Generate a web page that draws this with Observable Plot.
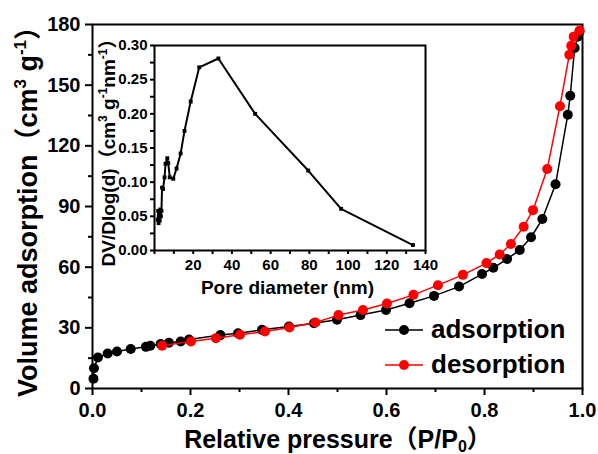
<!DOCTYPE html>
<html><head><meta charset="utf-8">
<script src="https://cdn.jsdelivr.net/npm/d3@7"></script>
<script src="https://cdn.jsdelivr.net/npm/@observablehq/plot@0.6"></script>
<style>
body{margin:0;background:#fff}
#chart{position:relative;width:598px;height:454px;overflow:hidden}
#chart svg{display:block}
</style></head><body><div id="chart"></div>
<script>
// ---- data ----
const adsX = [0.002,0.003,0.011,0.031,0.050,0.078,0.109,0.118,0.139,0.156,0.180,0.197,0.261,0.297,0.346,0.401,0.452,0.499,0.547,0.599,0.647,0.697,0.748,0.795,0.818,0.846,0.872,0.895,0.918,0.945,0.970,0.975,0.984,0.990,0.994];
const adsY = [4.8,10.0,15.3,17.3,18.3,19.5,20.6,21.1,22.0,22.6,23.2,24.2,26.4,27.3,29.0,30.7,32.3,34.0,36.3,38.8,42.2,45.8,50.4,56.6,59.7,64.0,68.5,74.8,83.8,101.0,135.4,144.8,168.4,174.0,176.5];
const desX = [0.142,0.201,0.252,0.301,0.352,0.402,0.455,0.502,0.552,0.601,0.655,0.705,0.756,0.804,0.831,0.854,0.880,0.899,0.928,0.954,0.973,0.977,0.982,0.994];
const desY = [21.1,23.3,24.9,26.6,28.2,30.2,32.6,36.3,38.8,42.0,46.3,51.1,56.2,62.0,66.3,71.5,80.0,88.2,108.5,139.6,165.0,169.5,174.0,177.0];
const poreD = [1.6,1.9,2.1,2.4,2.7,3.0,3.3,3.6,3.9,4.4,5.2,5.7,6.6,7.1,7.9,9.7,11.4,13.5,15.5,18.7,23.1,33.0,52.0,79.4,96.4,133.5];
const poreV = [0.045,0.058,0.040,0.052,0.044,0.060,0.050,0.058,0.092,0.090,0.107,0.127,0.135,0.128,0.107,0.105,0.120,0.142,0.175,0.218,0.268,0.281,0.200,0.117,0.061,0.008];
const xTicks = [0,0.2,0.4,0.6,0.8,1.0];
const xMinor = [0.1,0.3,0.5,0.7,0.9];
const yTicks = [0,30,60,90,120,150,180];
const yMinor = [15,45,75,105,135,165];
const insetXTicks = [20,40,60,80,100,120,140];
const insetXMinor = [0,10,30,50,70,90,110,130];
const insetYTicks = [0,0.05,0.10,0.15,0.20,0.25,0.30];
const insetYMinor = [0.025,0.075,0.125,0.175,0.225,0.275];
const seriesNames = ["adsorption","desorption"];
const seriesColors = ["#000000","#ff0000"];

const FONT = "'Liberation Sans', Arial, 'Noto Sans CJK SC', sans-serif";
const ads = adsX.map((x,i)=>({x, y: adsY[i]}));
const des = desX.map((x,i)=>({x, y: desY[i]}));
const pore = poreD.map((x,i)=>({x, y: poreV[i]}));

const main = Plot.plot({
  width: 598, height: 454,
  marginLeft: 92, marginRight: 16, marginTop: 24, marginBottom: 66,
  style: {fontFamily: FONT, background: "white", overflow: "visible", position: "absolute", left: "0px", top: "0px"},
  x: {domain: [0, 1]},
  y: {domain: [0, 180]},
  marks: [
    Plot.axisX(xTicks, {tickSize: 7, tickPadding: 7, tickFormat: d3.format(".1f"), fontSize: 20, fontWeight: "bold", strokeWidth: 2, label: null}),
    Plot.axisX(xMinor, {tickSize: 4, tickFormat: () => "", strokeWidth: 2, label: null}),
    Plot.axisY(yTicks, {tickSize: 7, tickPadding: 5, tickFormat: d3.format("d"), fontSize: 20, fontWeight: "bold", strokeWidth: 2, label: null}),
    Plot.axisY(yMinor, {tickSize: 4, tickFormat: () => "", strokeWidth: 2, label: null}),
    Plot.frame({stroke: "#000", strokeWidth: 2}),
    Plot.line(ads, {x: "x", y: "y", stroke: seriesColors[0], strokeWidth: 1.5}),
    Plot.dot(ads, {x: "x", y: "y", r: 5, fill: seriesColors[0]}),
    Plot.line(des, {x: "x", y: "y", stroke: seriesColors[1], strokeWidth: 1.5}),
    Plot.dot(des, {x: "x", y: "y", r: 5, fill: seriesColors[1]})
  ]
});

const inset = Plot.plot({
  width: 350, height: 290,
  marginLeft: 64, marginRight: 15, marginTop: 30, marginBottom: 55,
  style: {fontFamily: FONT, background: "transparent", overflow: "visible", position: "absolute", left: "90px", top: "15px"},
  x: {domain: [0, 140]},
  y: {domain: [0, 0.30]},
  marks: [
    Plot.axisX(insetXTicks, {tickSize: 4, tickPadding: 5, tickFormat: d3.format("d"), fontSize: 15, fontWeight: "bold", strokeWidth: 2, label: null}),
    Plot.axisX(insetXMinor, {tickSize: 4, tickFormat: () => "", strokeWidth: 2, label: null}),
    Plot.axisY(insetYTicks, {tickSize: 4, tickPadding: 3, tickFormat: d3.format(".2f"), fontSize: 15, fontWeight: "bold", strokeWidth: 2, label: null}),
    Plot.axisY(insetYMinor, {tickSize: 4, tickFormat: () => "", strokeWidth: 2, label: null}),
    Plot.frame({stroke: "#000", strokeWidth: 2}),
    Plot.line(pore, {x: "x", y: "y", stroke: "#000", strokeWidth: 2}),
    Plot.dot(pore, {x: "x", y: "y", symbol: "square", r: 2.2, fill: "#000"})
  ]
});
const chart = document.getElementById("chart");
chart.appendChild(main);
chart.appendChild(inset);

const svg = d3.select(main);
function styleText(sel, size, anchor) {
  return sel.attr("font-family", FONT).attr("font-weight", "bold").attr("font-size", size).attr("fill", "#000").attr("text-anchor", anchor);
}
// x label
const xl = styleText(svg.append("text"), 25, "middle").attr("x", 338).attr("y", 448);
xl.append("tspan").text("Relative pressure（P/P");
xl.append("tspan").attr("font-size", 16).attr("dy", 4).text("0");
xl.append("tspan").attr("dy", -4).text("）");
// y label
const yl = styleText(svg.append("text"), 27, "middle").attr("transform", "translate(37,205) rotate(-90)");
yl.append("tspan").text("Volume adsorption（cm");
yl.append("tspan").attr("font-size", 17).attr("dy", -11).text("3");
yl.append("tspan").attr("dy", 11).text(" g");
yl.append("tspan").attr("font-size", 17).attr("dy", -11).text("-1");
yl.append("tspan").attr("dy", 11).text("）");
// inset labels
const isv = d3.select(inset);
styleText(isv.append("text"), 19, "middle").attr("x", 197.5).attr("y", 278.5).text("Pore diameter (nm)");
const iyl = styleText(isv.append("text"), 19, "middle").attr("transform", "translate(25,133) rotate(-90)");
iyl.append("tspan").text("DV/Dlog(d)（cm");
iyl.append("tspan").attr("font-size", 12).attr("dy", -8).text("3");
iyl.append("tspan").attr("dy", 8).text(" g");
iyl.append("tspan").attr("font-size", 12).attr("dy", -8).text("-1");
iyl.append("tspan").attr("dy", 8).text("nm");
iyl.append("tspan").attr("font-size", 12).attr("dy", -8).text("-1");
iyl.append("tspan").attr("dy", 8).text("）");
// legend
seriesNames.forEach((name, i) => {
  const y = 330 + i * 35;
  svg.append("line").attr("x1", 385).attr("x2", 423).attr("y1", y).attr("y2", y).attr("stroke", seriesColors[i]).attr("stroke-width", 1.5);
  svg.append("circle").attr("cx", 404).attr("cy", y).attr("r", 5).attr("fill", seriesColors[i]);
  styleText(svg.append("text"), 26, "start").attr("x", 431).attr("y", y + 7.5).text(name);
});
</script></body></html>
